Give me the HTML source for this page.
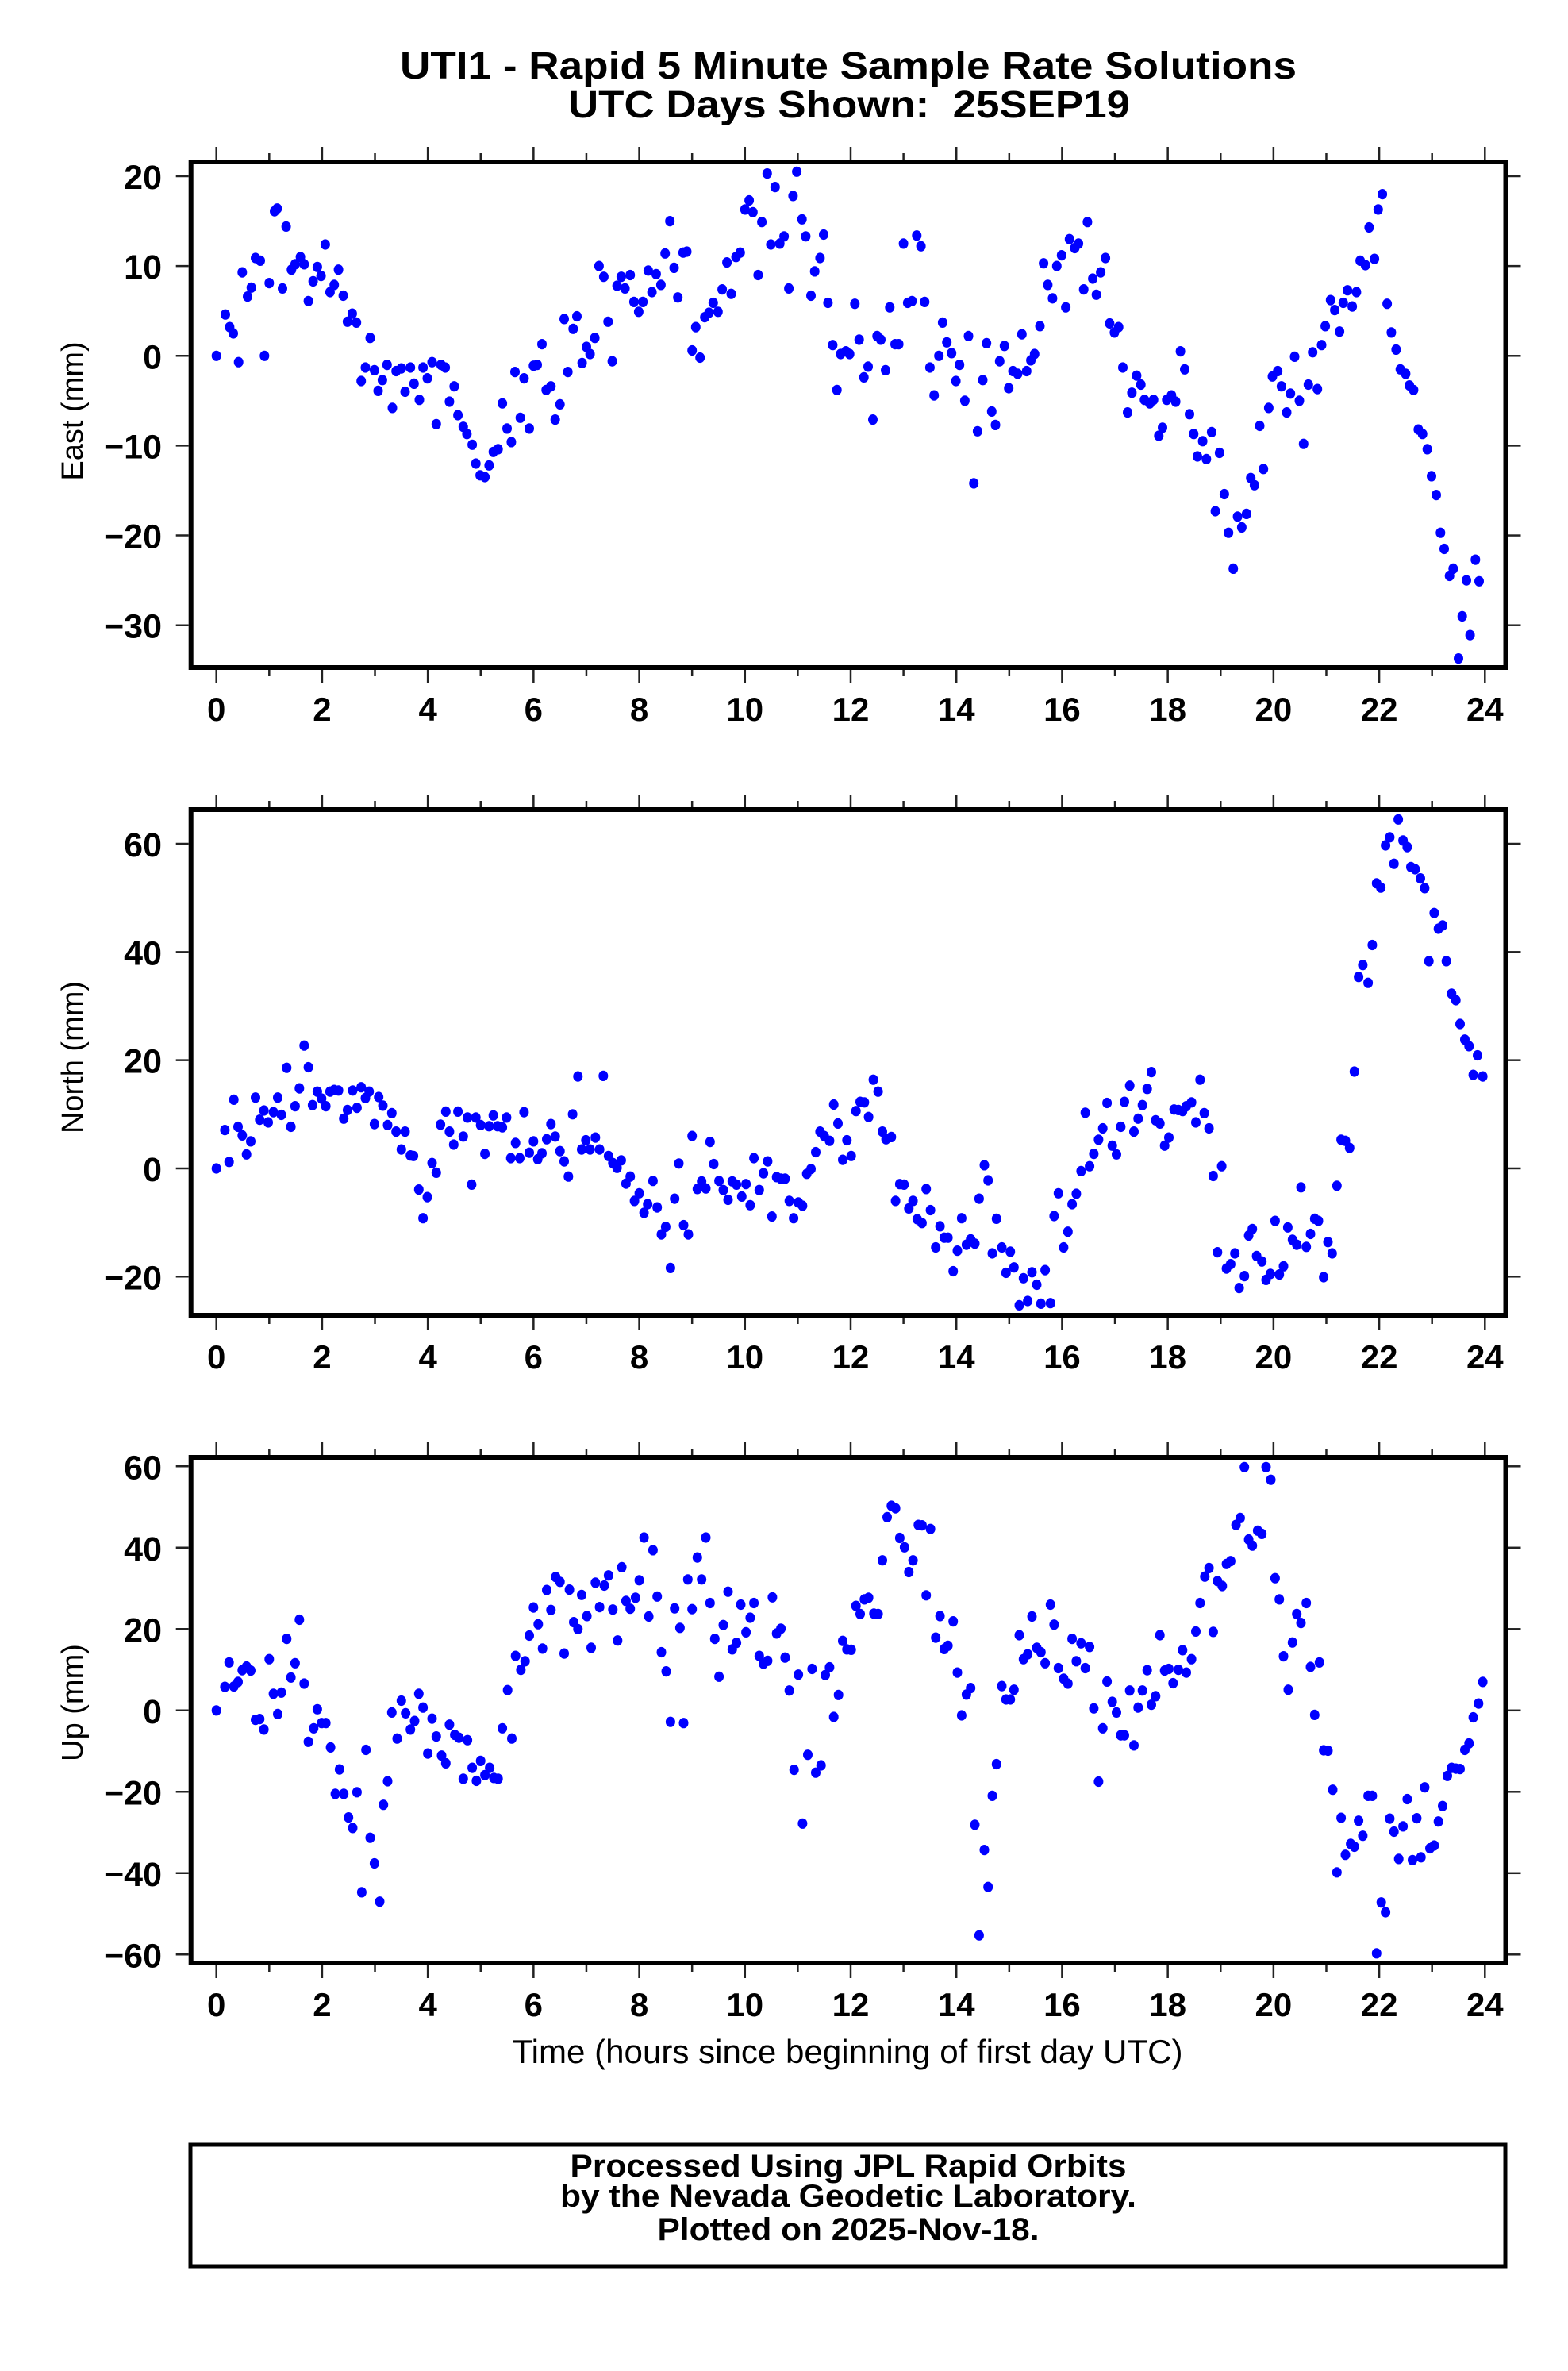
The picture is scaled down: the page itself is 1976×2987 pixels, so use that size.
<!DOCTYPE html>
<html><head><meta charset="utf-8"><title>UTI1 Rapid 5 Minute Solutions</title>
<style>html,body{margin:0;padding:0;background:#fff}svg{display:block}text{font-family:"Liberation Sans",Arial,sans-serif;fill:#000}</style>
</head><body>
<svg id="chart" xmlns="http://www.w3.org/2000/svg" width="1976" height="2987" viewBox="0 0 1976 2987">
<rect width="1976" height="2987" fill="#fff"/>
<text x="1069" y="99" text-anchor="middle" font-size="48" font-weight="bold" textLength="1130" lengthAdjust="spacingAndGlyphs">UTI1 - Rapid 5 Minute Sample Rate Solutions</text>
<text x="1070" y="148" text-anchor="middle" font-size="48" font-weight="bold" textLength="708" lengthAdjust="spacingAndGlyphs">UTC Days Shown:&#160; 25SEP19</text>
<g id="panels"></g>
<text x="1068" y="2599" text-anchor="middle" font-size="42" textLength="845" lengthAdjust="spacingAndGlyphs">Time (hours since beginning of first day UTC)</text>
<rect x="240" y="2702" width="1657" height="153" fill="none" stroke="#000" stroke-width="5"/>
<text x="1069" y="2742" text-anchor="middle" font-size="40" font-weight="bold" textLength="701" lengthAdjust="spacingAndGlyphs">Processed Using JPL Rapid Orbits</text>
<text x="1069" y="2780" text-anchor="middle" font-size="40" font-weight="bold" textLength="726" lengthAdjust="spacingAndGlyphs">by the Nevada Geodetic Laboratory.</text>
<text x="1069" y="2822" text-anchor="middle" font-size="40" font-weight="bold" textLength="481" lengthAdjust="spacingAndGlyphs">Plotted on 2025-Nov-18.</text>
</svg>
<script>
const xTicks=[0,2,4,6,8,10,12,14,16,18,20,22,24];
const eastTicks=[20,10,0,-10,-20,-30];
const northTicks=[60,40,20,0,-20];
const upTicks=[60,40,20,0,-20,-40,-60];
const eastHours=[0,0.17,0.25,0.32,0.42,0.49,0.59,0.66,0.74,0.83,0.91,1.0,1.1,1.15,1.25,1.32,1.42,1.49,1.59,1.66,1.74,1.83,1.91,1.98,2.06,2.15,2.23,2.31,2.4,2.48,2.57,2.65,2.74,2.82,2.91,2.99,3.06,3.14,3.23,3.33,3.4,3.5,3.57,3.67,3.74,3.84,3.91,3.99,4.08,4.16,4.25,4.33,4.41,4.5,4.57,4.67,4.74,4.84,4.91,4.99,5.08,5.16,5.24,5.33,5.41,5.5,5.58,5.65,5.75,5.82,5.92,6.0,6.07,6.16,6.24,6.33,6.41,6.5,6.58,6.65,6.75,6.82,6.92,7.0,7.07,7.16,7.24,7.33,7.41,7.49,7.58,7.66,7.73,7.83,7.9,7.99,8.07,8.17,8.24,8.32,8.41,8.49,8.58,8.66,8.73,8.83,8.9,9.0,9.07,9.15,9.24,9.32,9.4,9.49,9.57,9.66,9.74,9.83,9.91,10.0,10.08,10.15,10.25,10.32,10.42,10.49,10.57,10.66,10.74,10.83,10.91,10.98,11.08,11.15,11.25,11.32,11.42,11.49,11.57,11.66,11.74,11.81,11.91,11.98,12.08,12.16,12.25,12.33,12.42,12.5,12.57,12.66,12.74,12.84,12.91,13.0,13.08,13.16,13.25,13.33,13.4,13.5,13.58,13.67,13.74,13.82,13.91,13.99,14.06,14.16,14.23,14.33,14.4,14.5,14.57,14.67,14.74,14.82,14.91,14.99,15.07,15.16,15.24,15.33,15.41,15.48,15.58,15.65,15.73,15.82,15.9,15.99,16.07,16.14,16.24,16.31,16.41,16.48,16.58,16.65,16.73,16.82,16.9,16.99,17.07,17.15,17.24,17.32,17.41,17.49,17.56,17.66,17.73,17.83,17.9,17.98,18.07,18.15,18.24,18.32,18.41,18.49,18.56,18.66,18.73,18.83,18.9,18.98,19.07,19.15,19.24,19.32,19.4,19.49,19.57,19.64,19.74,19.81,19.91,19.98,20.08,20.15,20.25,20.32,20.4,20.49,20.57,20.66,20.74,20.83,20.91,20.98,21.08,21.16,21.25,21.32,21.4,21.49,21.57,21.64,21.74,21.81,21.91,21.98,22.06,22.15,22.23,22.32,22.4,22.5,22.57,22.65,22.74,22.82,22.91,22.99,23.08,23.16,23.23,23.33,23.4,23.5,23.57,23.65,23.72,23.82,23.89];
const eastValues=[0,4.6,3.2,2.5,-0.7,9.3,6.6,7.6,10.9,10.6,0,8.1,16.1,16.4,7.5,14.4,9.6,10.2,11,10.2,6.1,8.3,9.9,8.9,12.4,7.1,7.9,9.6,6.7,3.8,4.7,3.7,-2.8,-1.3,2.0,-1.6,-3.9,-2.7,-1.0,-5.8,-1.7,-1.4,-4.0,-1.3,-3.1,-4.9,-1.3,-2.5,-0.7,-7.6,-1.0,-1.3,-5.1,-3.4,-6.6,-7.9,-8.7,-9.9,-12,-13.3,-13.5,-12.2,-10.7,-10.4,-5.3,-8.1,-9.6,-1.8,-6.9,-2.5,-8.1,-1.1,-1.0,1.3,-3.8,-3.4,-7.1,-5.4,4.1,-1.8,3.0,4.4,-0.8,1.0,0.2,2.0,10,8.8,3.8,-0.6,7.8,8.8,7.5,9.0,6.0,4.9,6.0,9.5,7.1,9.1,7.9,11.4,15,9.8,6.5,11.5,11.6,0.6,3.2,-0.2,4.3,4.8,5.9,4.9,7.4,10.4,6.9,11,11.5,16.3,17.3,16,9,14.9,20.3,12.4,18.8,12.5,13.3,7.5,17.8,20.5,15.2,13.3,6.7,9.4,10.9,13.5,5.9,1.2,-3.8,0.2,0.5,0.2,5.8,1.8,-2.4,-1.2,-7.1,2.2,1.8,-1.6,5.4,1.3,1.3,12.5,5.9,6.1,13.4,12.2,6.0,-1.3,-4.4,0,3.7,1.5,0.3,-2.8,-1.0,-5,2.2,-14.2,-8.4,-2.7,1.4,-6.2,-7.7,-0.6,1.1,-3.6,-1.7,-2.0,2.4,-1.7,-0.5,0.2,3.3,10.3,7.9,6.4,10,11.2,5.4,13,12,12.5,7.4,14.9,8.6,6.8,9.3,10.9,3.6,2.6,3.2,-1.3,-6.3,-4.1,-2.2,-3.2,-4.9,-5.3,-4.9,-8.9,-8.0,-4.9,-4.4,-5.1,0.5,-1.5,-6.5,-8.7,-11.2,-9.5,-11.5,-8.5,-17.3,-10.8,-15.4,-19.7,-23.7,-17.9,-19.1,-17.6,-13.6,-14.4,-7.8,-12.6,-5.8,-2.3,-1.7,-3.4,-6.3,-4.2,-0.1,-5,-9.8,-3.2,0.4,-3.7,1.2,3.3,6.2,5.1,2.7,5.9,7.3,5.5,7.1,10.6,10.1,14.3,10.8,16.3,18,5.8,2.6,0.7,-1.5,-2.0,-3.3,-3.8,-8.2,-8.7,-10.4,-13.4,-15.5,-19.7,-21.5,-24.5,-23.7,-33.7,-29,-25,-31.1,-22.7,-25.1];
const northHours=[0,0.16,0.24,0.33,0.41,0.49,0.57,0.65,0.74,0.82,0.9,0.98,1.08,1.16,1.23,1.33,1.41,1.49,1.57,1.66,1.74,1.82,1.91,1.99,2.07,2.15,2.23,2.31,2.41,2.48,2.58,2.66,2.74,2.82,2.89,2.99,3.07,3.15,3.24,3.32,3.4,3.5,3.57,3.67,3.73,3.83,3.91,3.99,4.08,4.16,4.24,4.34,4.41,4.49,4.57,4.67,4.75,4.83,4.91,5.0,5.08,5.16,5.24,5.32,5.41,5.49,5.57,5.66,5.74,5.82,5.92,6.0,6.08,6.16,6.25,6.33,6.41,6.5,6.58,6.66,6.74,6.84,6.91,6.99,7.07,7.17,7.25,7.32,7.42,7.5,7.58,7.66,7.75,7.83,7.91,8.0,8.09,8.16,8.26,8.34,8.42,8.5,8.59,8.67,8.75,8.84,8.93,9.0,9.1,9.18,9.26,9.34,9.41,9.51,9.59,9.68,9.76,9.84,9.94,10.02,10.1,10.17,10.27,10.35,10.43,10.51,10.6,10.68,10.76,10.84,10.92,11.01,11.09,11.17,11.25,11.34,11.42,11.5,11.6,11.68,11.76,11.85,11.93,12.01,12.1,12.18,12.26,12.34,12.43,12.52,12.6,12.67,12.77,12.85,12.93,13.01,13.1,13.18,13.26,13.35,13.43,13.51,13.61,13.69,13.77,13.84,13.94,14.02,14.1,14.19,14.27,14.35,14.43,14.53,14.6,14.68,14.76,14.86,14.94,15.02,15.09,15.19,15.27,15.35,15.43,15.52,15.6,15.68,15.78,15.85,15.93,16.03,16.11,16.19,16.27,16.36,16.44,16.52,16.6,16.69,16.77,16.85,16.95,17.03,17.11,17.18,17.28,17.36,17.44,17.52,17.61,17.69,17.77,17.85,17.94,18.02,18.12,18.2,18.28,18.35,18.45,18.53,18.61,18.69,18.78,18.86,18.94,19.02,19.11,19.19,19.27,19.35,19.45,19.53,19.6,19.68,19.78,19.86,19.94,20.03,20.11,20.19,20.27,20.36,20.44,20.52,20.62,20.7,20.78,20.85,20.95,21.03,21.11,21.2,21.28,21.36,21.44,21.53,21.61,21.69,21.79,21.87,21.95,22.03,22.12,22.2,22.28,22.36,22.45,22.53,22.6,22.68,22.78,22.86,22.94,23.04,23.12,23.2,23.27,23.37,23.45,23.53,23.62,23.7,23.78,23.86,23.96];
const northValues=[0,7.1,1.2,12.7,7.7,6.1,2.6,5,13.1,9,10.7,8.5,10.4,13.1,9.9,18.6,7.7,11.5,14.8,22.7,18.7,11.7,14.2,12.9,11.5,14.2,14.5,14.4,9.2,10.8,14.4,11.2,15,13,14.2,8.2,13.2,11.6,8,10.2,6.8,3.5,6.8,2.4,2.3,-3.9,-9.2,-5.3,1,-0.8,8.1,10.5,6.8,4.4,10.5,5.9,9.4,-3,9.4,8,2.7,7.8,9.8,7.8,7.6,9.4,1.9,4.7,1.9,10.4,2.9,5,1.7,2.8,5.4,8.2,5.9,3.2,1.3,-1.5,10,17,3.5,5.2,3.5,5.7,3.5,17.1,2.3,1,0.1,1.5,-2.8,-1.5,-6,-4.6,-8.2,-6.6,-2.3,-7.2,-12.2,-10.8,-18.4,-5.6,0.9,-10.5,-12.2,6,-3.8,-2.4,-3.7,4.9,0.8,-2.3,-4,-5.8,-2.4,-3,-5.2,-2.9,-6.8,1.9,-4,-0.9,1.3,-8.9,-1.6,-1.9,-1.9,-6,-9.2,-6.3,-6.9,-1,-0.1,3,6.8,6,5.1,11.8,8.3,1.6,5.2,2.3,10.6,12.3,12.2,9.5,16.4,14.2,6.8,5.4,5.8,-6,-2.9,-3,-7.4,-6,-9.4,-10.1,-3.8,-7.7,-14.6,-10.7,-12.8,-12.8,-19,-15.2,-9.2,-14.1,-13.1,-13.9,-5.6,0.6,-2.2,-15.7,-9.3,-14.6,-19.3,-15.4,-18.3,-25.3,-20.3,-24.5,-19.2,-21.5,-25,-18.8,-24.9,-8.8,-4.6,-14.6,-11.7,-6.6,-4.7,-0.5,10.3,0.4,2.7,5.3,7.4,12.1,4.2,2.6,7.7,12.3,15.3,6.8,9.2,11.7,14.7,17.8,8.9,8.3,4.2,5.7,10.9,10.8,10.6,11.5,12.2,8.5,16.4,10.2,7.4,-1.4,-15.5,0.4,-18.5,-17.7,-15.7,-22.1,-19.9,-12.4,-11.2,-16.2,-17.2,-20.6,-19.5,-9.7,-19.6,-18.1,-10.9,-13.2,-14.1,-3.5,-14.5,-12.1,-9.3,-9.7,-20.1,-13.6,-15.7,-3.2,5.3,5.1,3.8,17.9,35.4,37.6,34.3,41.3,52.7,51.9,59.7,61.2,56.3,64.5,60.6,59.4,55.7,55.3,53.6,51.8,38.3,47.2,44.3,44.9,38.3,32.3,31.1,26.7,23.8,22.6,17.3,20.9,17];
const upHours=[0,0.16,0.24,0.33,0.41,0.49,0.57,0.65,0.74,0.82,0.9,1.0,1.08,1.16,1.23,1.33,1.41,1.49,1.57,1.66,1.74,1.84,1.91,1.99,2.07,2.16,2.25,2.33,2.41,2.5,2.58,2.66,2.75,2.83,2.91,2.99,3.09,3.16,3.24,3.32,3.42,3.5,3.58,3.67,3.75,3.83,3.91,4.0,4.08,4.16,4.26,4.34,4.41,4.51,4.59,4.67,4.75,4.84,4.92,5.0,5.08,5.17,5.25,5.33,5.41,5.51,5.59,5.66,5.76,5.84,5.92,6.0,6.09,6.17,6.25,6.33,6.42,6.5,6.58,6.68,6.76,6.84,6.91,7.01,7.09,7.17,7.25,7.34,7.42,7.5,7.59,7.67,7.75,7.83,7.93,8.0,8.09,8.18,8.26,8.34,8.42,8.51,8.59,8.67,8.77,8.84,8.92,9.0,9.1,9.18,9.26,9.34,9.43,9.51,9.59,9.68,9.76,9.84,9.92,10.02,10.1,10.17,10.27,10.35,10.43,10.52,10.6,10.68,10.76,10.84,10.93,11.01,11.09,11.19,11.27,11.34,11.44,11.52,11.6,11.68,11.77,11.85,11.93,12.01,12.1,12.18,12.26,12.34,12.44,12.52,12.6,12.69,12.77,12.85,12.93,13.02,13.1,13.18,13.28,13.35,13.43,13.51,13.61,13.69,13.77,13.84,13.94,14.02,14.1,14.19,14.27,14.35,14.43,14.53,14.6,14.68,14.76,14.86,14.94,15.02,15.09,15.19,15.27,15.35,15.43,15.52,15.6,15.68,15.78,15.85,15.93,16.03,16.11,16.19,16.27,16.36,16.44,16.52,16.6,16.69,16.77,16.85,16.95,17.03,17.11,17.18,17.28,17.36,17.44,17.52,17.61,17.69,17.77,17.85,17.94,18.02,18.1,18.2,18.28,18.35,18.45,18.53,18.61,18.7,18.78,18.86,18.94,19.03,19.11,19.19,19.29,19.37,19.45,19.53,19.6,19.7,19.78,19.86,19.95,20.03,20.11,20.19,20.28,20.36,20.44,20.52,20.62,20.7,20.78,20.87,20.95,21.03,21.12,21.2,21.28,21.36,21.46,21.53,21.61,21.69,21.79,21.87,21.95,22.04,22.12,22.2,22.28,22.37,22.45,22.53,22.63,22.71,22.79,22.86,22.96,23.04,23.12,23.2,23.29,23.37,23.45,23.53,23.62,23.7,23.78,23.88,23.96];
const upValues=[0,5.8,11.8,5.9,7,9.9,10.8,9.8,-2.3,-2.1,-4.7,12.6,4.1,-0.9,4.4,17.6,8.1,11.6,22.3,6.6,-7.7,-4.4,0.3,-3.1,-3.1,-9.1,-20.5,-14.5,-20.5,-26.3,-28.9,-20.1,-44.7,-9.7,-31.3,-37.6,-47,-23.2,-17.4,-0.5,-6.9,2.4,-0.7,-4.7,-2.6,4.1,0.7,-10.6,-2,-6.4,-11.1,-13,-3.5,-6,-6.7,-16.8,-7.3,-14.1,-17.3,-12.4,-15.9,-14.1,-16.6,-16.8,-4.4,5,-6.9,13.4,10,12.1,18.4,25.3,21.2,15.2,29.6,24.7,32.8,31.6,14,29.7,21.7,20,28.4,23.2,15.4,31.4,25.4,30.7,33.2,24.8,17.2,35.2,26.9,25,27.7,32,42.5,23.1,39.4,28,14.3,9.6,-2.8,25.1,20.3,-3.1,32.2,24.9,37.6,32.2,42.5,26.4,17.6,8.3,21,29.2,15,16.6,26,19.2,22.8,26.4,13.4,11.5,12.2,27.8,18.9,20.1,13,4.9,-14.6,8.8,-27.8,-10.9,10.2,-15.3,-13.5,8.7,10.6,-1.6,3.8,17.1,15,14.9,25.7,23.7,27.3,27.7,23.8,23.7,36.9,47.5,50.3,49.7,42.4,40.1,34,36.9,45.6,45.5,28.3,44.6,17.9,23.2,15.1,15.9,21.9,9.3,-1.2,3.9,5.5,-28.1,-55.3,-34.3,-43.4,-21,-13.2,6,2.7,2.7,5.1,18.5,12.6,13.8,23.1,15.4,14.3,11.6,26,21.1,10.4,7.8,6.6,17.6,12.1,16.5,10.4,15.6,0.5,-17.5,-4.4,7.1,2.1,-0.5,-6.1,-6.1,4.9,-8.6,0.7,4.9,9.9,1.4,3.5,18.5,9.8,10.2,6.7,10,14.8,9.3,12.6,19.4,26.4,32.9,35,19.3,31.8,30.6,36,36.7,45.6,47.3,59.8,42,40.5,44.2,43.4,59.8,56.7,32.5,27.3,13.3,5.1,16.7,23.7,21.5,26.4,10.7,-1.1,11.8,-9.8,-9.9,-19.5,-39.8,-26.4,-35.5,-32.8,-33.5,-27.1,-30.8,-21,-21,-59.7,-47.2,-49.6,-26.6,-29.8,-36.5,-28.5,-21.8,-36.8,-26.5,-36.1,-18.9,-33.9,-33.2,-27.3,-23.5,-16.1,-14.1,-14.3,-14.4,-9.7,-8.1,-1.7,1.7,7];

const NS='http://www.w3.org/2000/svg';
const FL=240.7, FR=1897.5, X0=272.7, X24=1871.3;
function xs(h){return X0+(X24-X0)*h/24;}
function mk(tag,attrs,parent){const e=document.createElementNS(NS,tag);for(const k in attrs)e.setAttribute(k,attrs[k]);parent.appendChild(e);return e;}
const panels=document.getElementById('panels');
const panelDefs=[
 {key:'east',title:'East (mm)',top:204,bottom:841,tv:20,ty:222,bv:-30,by:787.7,ticks:eastTicks,hours:eastHours,vals:eastValues,tcy:518},
 {key:'north',title:'North (mm)',top:1020,bottom:1657,tv:60,ty:1063,bv:-20,by:1608.3,ticks:northTicks,hours:northHours,vals:northValues,tcy:1332},
 {key:'up',title:'Up (mm)',top:1836,bottom:2473,tv:60,ty:1847.3,bv:-60,by:2462.3,ticks:upTicks,hours:upHours,vals:upValues,tcy:2145}
];
panelDefs.forEach(p=>{
 const ys=v=>p.ty+(v-p.tv)*(p.by-p.ty)/(p.bv-p.tv);
 const g=mk('g',{},panels);
 
 
 const dots=mk('g',{fill:'#0000ff'},g);
 
 
 for(let i=0;i<p.vals.length;i++){
  const c=mk('ellipse',{cx:xs(p.hours[i]).toFixed(1),cy:ys(p.vals[i]).toFixed(1),rx:6,ry:6.6},dots);
  
  
 }
 const fr=mk('rect',{x:FL,y:p.top,width:FR-FL,height:p.bottom-p.top,fill:'none',stroke:'#000','stroke-width':6},g);
 
 
 for(let h=0;h<=24;h++){
  const x=xs(h),len=(h%2===0)?16:8;
  mk('line',{x1:x,x2:x,y1:p.top-3,y2:p.top-3-len,stroke:'#222','stroke-width':2.5},g);
  mk('line',{x1:x,x2:x,y1:p.bottom+3,y2:p.bottom+3+len,stroke:'#222','stroke-width':2.5},g);
 }
 xTicks.forEach(t=>{
  const tx=mk('text',{x:xs(t),y:p.bottom+67,'text-anchor':'middle','font-size':42,'font-weight':'bold'},g);
  tx.textContent=t;
  
  
 });
 p.ticks.forEach(t=>{
  const y=ys(t);
  mk('line',{x1:FL-3,x2:FL-19,y1:y,y2:y,stroke:'#222','stroke-width':2.5},g);
  mk('line',{x1:FR+3,x2:FR+19,y1:y,y2:y,stroke:'#222','stroke-width':2.5},g);
  const tx=mk('text',{x:204,y:y+16,'text-anchor':'end','font-size':43,'font-weight':'bold'},g);
  tx.textContent=t<0?'\u2212'+(-t):String(t);
  
  
 });
 const yt=mk('text',{x:0,y:0,'text-anchor':'middle','font-size':38,transform:'translate(104,'+p.tcy+') rotate(-90)'},g);
 yt.textContent=p.title;
 
 
});
</script>
</body></html>
